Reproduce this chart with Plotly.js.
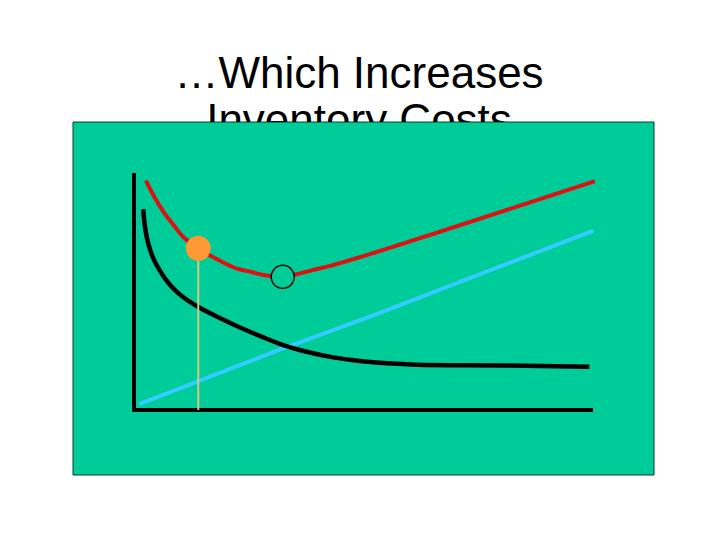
<!DOCTYPE html>
<html>
<head>
<meta charset="utf-8">
<script src="https://cdn.plot.ly/plotly-3.0.1.min.js"></script>
<style>html,body{margin:0;padding:0;background:#fff;}#chart{width:720px;height:540px;}</style>
</head>
<body>
<div id="chart"></div>
<script>
// ---- data (order quantity Q on 0..100, cost C on 0..100) ----
var titleLines = ["\u2026Which Increases", "Inventory Costs"];

var orderingQ = [2.0, 2.4, 3.1, 4.2, 5.7, 7.5, 9.7, 12.2, 14.4, 18.7, 23.1, 27.5, 32.5, 37.6, 43.4, 49.2, 55.1, 61.6, 81.2, 99.2];
var orderingC = [84.7, 77.3, 70.3, 64.0, 58.6, 53.6, 49.2, 45.6, 43.0, 38.8, 34.8, 31.2, 27.4, 24.6, 22.2, 20.7, 19.7, 19.1, 18.8, 18.3];

var holdingQ = [1.1, 20.9, 32.5, 51.4, 100.1];
var holdingC = [2.5, 17.2, 26.0, 39.4, 75.7];

var totalQ = [2.6, 4.2, 6.4, 8.6, 10.7, 14.0, 17.3, 20.2, 22.7, 24.6, 28.2, 32.4, 35.4, 39.1, 42.7, 51.4, 100.4];
var totalC = [96.8, 90.7, 83.7, 78.1, 73.1, 68.2, 64.4, 61.5, 59.5, 58.7, 57.0, 56.2, 57.3, 59.1, 60.8, 65.8, 96.6];

var currentQ = [14.0];   // orange point (current order quantity)
var currentC = [68.2];
var optimumQ = [32.4];   // hollow circle (minimum total cost)
var optimumC = [56.2];

// ---- styles ----
var GREEN = '#00CC99';
var traces = [
  {x: holdingQ, y: holdingC, mode: 'lines', line: {color: '#33CCFF', width: 4}, hoverinfo: 'skip', xaxis: 'x', yaxis: 'y'},
  {x: orderingQ, y: orderingC, mode: 'lines', line: {color: '#000000', width: 4.5, shape: 'spline', smoothing: 1}, hoverinfo: 'skip', xaxis: 'x', yaxis: 'y'},
  {x: totalQ, y: totalC, mode: 'lines', line: {color: '#DD1111', width: 4, shape: 'spline', smoothing: 1}, hoverinfo: 'skip', xaxis: 'x', yaxis: 'y'},
  {x: [currentQ[0], currentQ[0]], y: [currentC[0], 0], mode: 'lines', line: {color: '#CCCC88', width: 2}, hoverinfo: 'skip', xaxis: 'x', yaxis: 'y'},
  {x: optimumQ, y: optimumC, mode: 'markers', marker: {symbol: 'circle', size: 23, color: GREEN, line: {color: '#000000', width: 1.5}}, hoverinfo: 'skip', xaxis: 'x', yaxis: 'y'},
  {x: currentQ, y: currentC, mode: 'markers', marker: {symbol: 'circle', size: 25, color: '#FF9933', line: {width: 0}}, hoverinfo: 'skip', xaxis: 'x', yaxis: 'y'},
  // title text, clipped at the top edge of the green panel
  {x: titleLines.map(function(){return 359;}), y: titleLines.map(function(_, i){return 77 + 47 * i;}),
   text: titleLines, mode: 'text', textposition: 'middle center', cliponaxis: true,
   textfont: {family: 'Liberation Sans, Arial, sans-serif', size: 44, color: '#000000'},
   hoverinfo: 'skip', xaxis: 'x2', yaxis: 'y2'}
];

var W = 720, H = 540;
var panel = {l: 73, r: 654, t: 122, b: 475};
var origin = {x: 134, y: 410}, pxPerQ = 4.59, pxPerC = 2.37;

var hidden = {showgrid: false, zeroline: false, showticklabels: false, ticks: '', showline: false, fixedrange: true};

var layout = {
  width: W, height: H,
  margin: {l: 0, r: 0, t: 0, b: 0, pad: 0},
  paper_bgcolor: '#FFFFFF',
  plot_bgcolor: 'rgba(0,0,0,0)',
  showlegend: false,
  xaxis: Object.assign({}, hidden, {
    domain: [panel.l / W, panel.r / W],
    range: [(panel.l - origin.x) / pxPerQ, (panel.r - origin.x) / pxPerQ],
    anchor: 'y'
  }),
  yaxis: Object.assign({}, hidden, {
    domain: [(H - panel.b) / H, (H - panel.t) / H],
    range: [(origin.y - panel.b) / pxPerC, (origin.y - panel.t) / pxPerC],
    anchor: 'x'
  }),
  xaxis2: Object.assign({}, hidden, {domain: [0, 1], range: [0, W], anchor: 'y2'}),
  yaxis2: Object.assign({}, hidden, {domain: [(H - panel.t) / H, 1], range: [panel.t, 0], anchor: 'x2'}),
  shapes: [
    {type: 'rect', xref: 'x domain', yref: 'y domain', x0: 0, x1: 1, y0: 0, y1: 1,
     fillcolor: GREEN, line: {color: '#0B3D2E', width: 1}, layer: 'below'},
    {type: 'line', xref: 'x', yref: 'y', x0: 0, y0: 0, x1: 0, y1: 100, line: {color: '#000000', width: 4}, layer: 'below'},
    {type: 'line', xref: 'x', yref: 'y', x0: -0.4, y0: 0, x1: 100, y1: 0, line: {color: '#000000', width: 4}, layer: 'below'}
  ]
};

Plotly.newPlot('chart', traces, layout, {staticPlot: true, displayModeBar: false});
</script>
</body>
</html>
